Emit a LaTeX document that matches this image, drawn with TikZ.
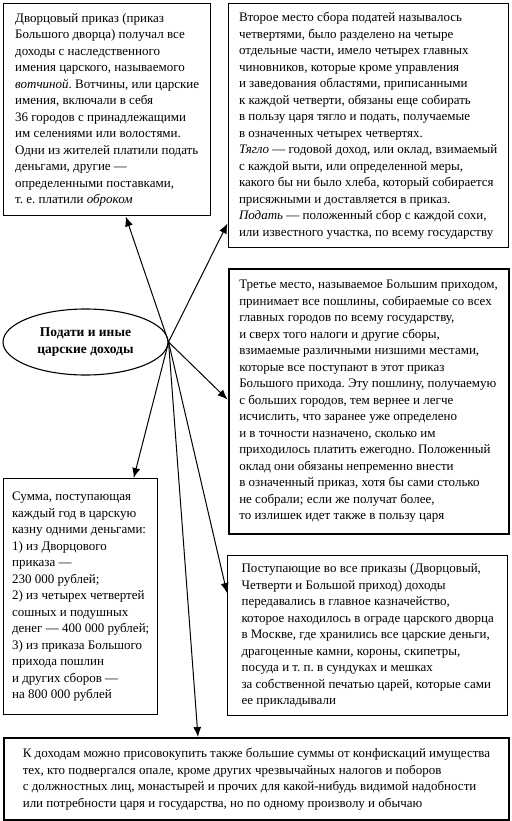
\documentclass[tikz,border=0pt]{standalone}
\usepackage{fontspec}
\setmainfont{Liberation Serif}
\usetikzlibrary{shapes.geometric,arrows.meta}
\frenchspacing

\begin{document}
\begin{tikzpicture}[x=1pt, y=-1pt,
        blok/.style={draw, line width=1.4pt, anchor=north west, align=left,
                inner xsep=6pt, inner ysep=0pt, font=\fontsize{13}{16.5}\selectfont},
        strelka/.style={-{Latex[length=10pt,width=8pt]}, line width=1pt}]
                \useasboundingbox ( 0, 0 ) rectangle ( 511, 821 );

% центр
                \node [draw, ellipse, line width=1.1pt, minimum width=165pt, minimum height=66pt,
                        inner sep=0pt, align=center, font=\bfseries\fontsize{13.5}{17}\selectfont]
                        (podati) at ( 85.5, 342 ) {Подати и иные\\царские доходы};

% блоки слева
                \node [blok, minimum width=207pt, minimum height=212pt] (dvor) at ( 3, 3 ) {%
Дворцовый приказ (приказ\\
Большого дворца) получал все\\
доходы с наследственного\\
имения царского, называемого\\
\textit{вотчиной}. Вотчины, или царские\\
имения, включали в себя\\
36 городов с принадлежащими\\
им селениями или волостями.\\
Одни из жителей платили подать\\
деньгами, другие —\\
определенными поставками,\\
т. е. платили \textit{оброком}};

                \node [blok, minimum width=154pt, minimum height=236pt] (summa) at ( 3, 478 ) {%
Сумма, поступающая\\
каждый год в царскую\\
казну одними деньгами:\\
1) из Дворцового\\
приказа —\\
230~000 рублей;\\
2) из четырех четвертей\\
сошных и подушных\\
денег — 400~000 рублей;\\
3) из приказа Большого\\
прихода пошлин\\
и других сборов —\\
на 800~000 рублей};

% блоки справа
                \node [blok, minimum width=280pt, minimum height=244pt] (chetv) at ( 227.5, 3 ) {%
Второе место сбора податей называлось\\
четвертями, было разделено на четыре\\
отдельные части, имело четырех главных\\
чиновников, которые кроме управления\\
и заведования областями, приписанными\\
к каждой четверти, обязаны еще собирать\\
в пользу царя тягло и подать, получаемые\\
в означенных четырех четвертях.\\
\textit{Тягло} — годовой доход, или оклад, взимаемый\\
с каждой выти, или определенной меры,\\
какого бы ни было хлеба, который собирается\\
присяжными и доставляется в приказ.\\
\textit{Подать} — положенный сбор с каждой сохи,\\
или известного участка, по всему государству};

                \node [blok, line width=2pt, minimum width=280pt, minimum height=265pt] (prihod) at ( 227.5, 268 ) {%
Третье место, называемое Большим приходом,\\
принимает все пошлины, собираемые со всех\\
главных городов по всему государству,\\
и сверх того налоги и другие сборы,\\
взимаемые различными низшими местами,\\
которые все поступают в этот приказ\\
Большого прихода. Эту пошлину, получаемую\\
с больших городов, тем вернее и легче\\
исчислить, что заранее уже определено\\
и в точности назначено, сколько им\\
приходилось платить ежегодно. Положенный\\
оклад они обязаны непременно внести\\
в означенный приказ, хотя бы сами столько\\
не собрали; если же получат более,\\
то излишек идет также в пользу царя};

                \node [blok, minimum width=280pt, minimum height=160pt] (kazna) at ( 227, 555 ) {%
Поступающие во все приказы (Дворцовый,\\
Четверти и Большой приход) доходы\\
передавались в главное казначейство,\\
которое находилось в ограде царского дворца\\
в Москве, где хранились все царские деньги,\\
драгоценные камни, короны, скипетры,\\
посуда и т. п. в сундуках и мешках\\
за собственной печатью царей, которые сами\\
ее прикладывали};

% нижний блок
                \node [blok, line width=2pt, minimum width=505pt, minimum height=82pt] (konf) at ( 3, 737 ) {%
К доходам можно присовокупить также большие суммы от конфискаций имущества\\
тех, кто подвергался опале, кроме других чрезвычайных налогов и поборов\\
с должностных лиц, монастырей и прочих для какой-нибудь видимой надобности\\
или потребности царя и государства, но по одному произволу и обычаю};

% стрелки
                \draw [strelka] (podati.east) -- ([xshift=18.5pt]dvor.south);
                \draw [strelka] (podati.east) -- ([yshift=25pt]chetv.south west);
                \draw [strelka] (podati.east) -- ([yshift=2pt]prihod.west);
                \draw [strelka] (podati.east) -- ([yshift=-38pt]kazna.north west);
                \draw [strelka] (podati.east) -- ([xshift=53pt]summa.north);
                \draw [strelka] (podati.east) -- ([xshift=-58.5pt]konf.north);
\end{tikzpicture}
\end{document}
